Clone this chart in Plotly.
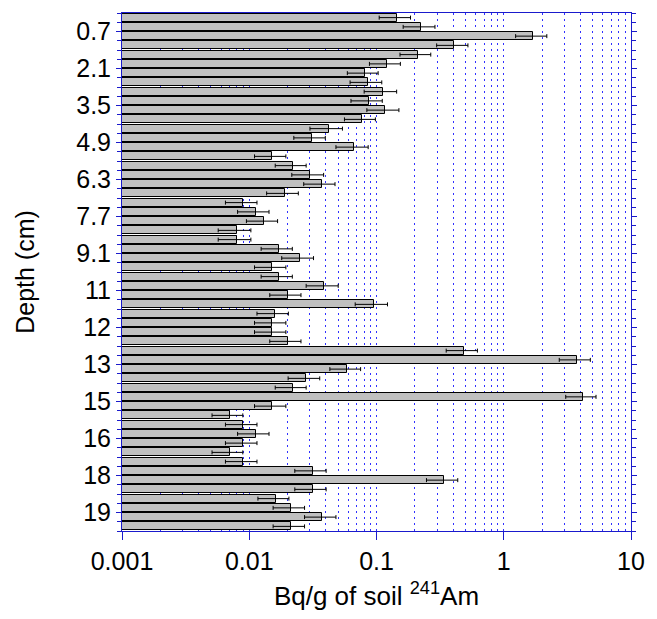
import plotly.graph_objects as go

depth_cm = [0.35, 0.7, 1.05, 1.4, 1.75, 2.1, 2.45, 2.8, 3.15, 3.5, 3.85, 4.2, 4.55, 4.9,
            5.25, 5.6, 5.95, 6.3, 6.65, 7.0, 7.35, 7.7, 8.05, 8.4, 8.75, 9.1, 9.45, 9.8,
            10.15, 10.5, 10.85, 11.2, 11.55, 11.9, 12.25, 12.6, 12.95, 13.3, 13.65, 14.0,
            14.35, 14.7, 15.05, 15.4, 15.75, 16.1, 16.45, 16.8, 17.15, 17.5, 17.85, 18.2,
            18.55, 18.9, 19.25, 19.6]

am241 = [0.145, 0.225, 1.71, 0.41, 0.21, 0.121, 0.081, 0.086, 0.112, 0.087, 0.117, 0.077,
         0.042, 0.031, 0.067, 0.0152, 0.022, 0.030, 0.037, 0.019, 0.009, 0.0112, 0.0131,
         0.008, 0.008, 0.0171, 0.025, 0.0152, 0.0171, 0.039, 0.020, 0.095, 0.0159, 0.0152,
         0.0152, 0.020, 0.487, 3.76, 0.059, 0.028, 0.022, 4.19, 0.0152, 0.007, 0.009,
         0.0112, 0.009, 0.007, 0.009, 0.0315, 0.341, 0.0315, 0.0161, 0.0213, 0.0376, 0.0213]

am241_err = [0.040, 0.063, 0.47, 0.113, 0.057, 0.033, 0.022, 0.024, 0.032, 0.024, 0.033,
             0.021, 0.012, 0.0086, 0.019, 0.0042, 0.006, 0.0084, 0.0102, 0.0053, 0.0025,
             0.0031, 0.0036, 0.0023, 0.0023, 0.0047, 0.007, 0.0042, 0.0047, 0.011, 0.0055,
             0.027, 0.0044, 0.0042, 0.0042, 0.0055, 0.134, 1.03, 0.016, 0.0078, 0.006, 1.12,
             0.0042, 0.0019, 0.0025, 0.0031, 0.0025, 0.0019, 0.0025, 0.0087, 0.094, 0.0087,
             0.0044, 0.0059, 0.0104, 0.0059]

y_tick_vals = [0.7, 2.1, 3.5, 4.9, 6.3, 7.7, 9.1, 10.5, 11.9, 13.3, 14.7, 16.1, 17.5, 18.9]
y_tick_text = ["0.7", "2.1", "3.5", "4.9", "6.3", "7.7", "9.1", "11", "12", "13", "15",
               "16", "18", "19"]
x_tick_vals = [0.001, 0.01, 0.1, 1, 10]
x_tick_text = ["0.001", "0.01", "0.1", "1", "10"]

# minor grid positions: 1..9 times each decade (styling only)
x_grid_vals = [m * d for d in (0.001, 0.01, 0.1, 1) for m in range(1, 10)]

AXIS_BLUE = "#1a1acc"
GRID_BLUE = "#3030ff"
FONT = "Arial, Liberation Sans, sans-serif"

fig = go.Figure()
fig.add_trace(go.Bar(
    x=am241, y=depth_cm, orientation="h",
    width=0.305, offset=-0.3275,
    marker=dict(color="#c0c0c0", line=dict(color="black", width=1)),
    error_x=dict(type="data", array=am241_err, visible=True, color="black",
                 thickness=1, width=2),
    showlegend=False,
))

fig.update_layout(
    width=657, height=619,
    margin=dict(l=122, r=17, t=12, b=88),
    paper_bgcolor="white", plot_bgcolor="white",
    font=dict(family=FONT, size=25, color="black"),
    bargap=0,
    xaxis=dict(
        type="log", range=[-3, 1],
        tickmode="array", tickvals=x_tick_vals, ticktext=x_tick_text,
        showline=True, linecolor=AXIS_BLUE, linewidth=1, mirror=True,
        ticks="outside", ticklen=8, tickcolor=AXIS_BLUE, tickwidth=1,
        showgrid=False,
        minor=dict(tickmode="array", tickvals=x_grid_vals, showgrid=True,
                   gridcolor=GRID_BLUE, griddash="2px,4px", gridwidth=1, ticks=""),
        zeroline=False,
        title=dict(text="Bq/g of soil <sup>241</sup>Am", font=dict(size=26), standoff=12),
        tickfont=dict(size=25),
    ),
    yaxis=dict(
        range=[19.6, 0], autorange=False,
        tickmode="array", tickvals=y_tick_vals, ticktext=y_tick_text,
        showline=True, linecolor=AXIS_BLUE, linewidth=1, mirror="ticks",
        ticks="outside", ticklen=5, tickcolor=AXIS_BLUE, tickwidth=1,
        minor=dict(tick0=0, dtick=0.35, ticks="outside", ticklen=4,
                   tickcolor=AXIS_BLUE, showgrid=False),
        showgrid=False, zeroline=False,
        title=dict(text="Depth (cm)", font=dict(size=25), standoff=34),
        tickfont=dict(size=25),
    ),
)

fig.write_html("out.html")
